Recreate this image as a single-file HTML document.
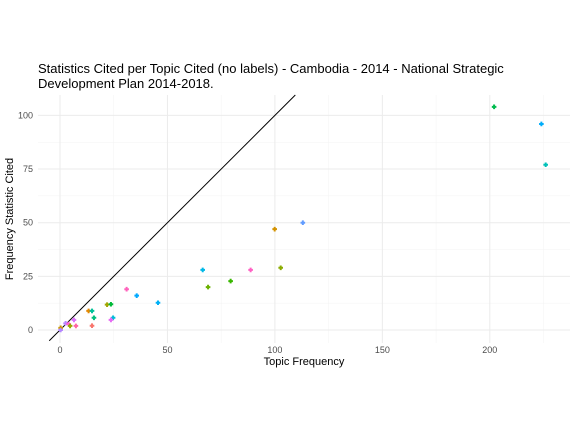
<!DOCTYPE html>
<html><head><meta charset="utf-8"><style>
body{margin:0;background:#fff;font-family:"Liberation Sans",sans-serif}
</style></head><body>
<svg id="c" width="576" height="432" style="display:block"></svg>
<script>
const xs=[31,35.7,45.6,21.9,23.7,13.3,14.9,15.8,24.7,23.7,6.5,2.6,4,4.7,7.4,14.9,0.3,0.3,113,99.9,66.4,88.7,102.7,79.4,68.9,202,224,226];
const ys=[19,16,12.7,11.8,12,8.9,8.9,5.7,5.7,4.7,4.7,3.1,2.8,1.9,1.9,2,1,0,50,47,28,28,29,22.8,20,104,96,77];
const cols=["#FF62BC","#00A9FF","#00B0F6","#A3A500","#00BA38","#E58700","#00C19A","#00BF7D","#00BCD8","#E76BF3","#DC71FA","#B983FF","#FD61D1","#99A800","#FF67A4","#F8766D","#C99800","#B385FF","#619CFF","#D39200","#00B8E7","#FF61C3","#8AAB00","#39B600","#6BB100","#00BB4E","#00ADFA","#00C0B8"];
const xTicks=[0,50,100,150,200];
const yTicks=[0,25,50,75,100];
const X=v=>60+v*2.149, Y=v=>330-v*2.146;
const s=document.getElementById('c'),NS='http://www.w3.org/2000/svg';
function mk(t,a,p){const e=document.createElementNS(NS,t);for(const k in a)e.setAttribute(k,a[k]);(p||s).appendChild(e);return e;}
const L=38,R=570,T=95,B=343;
// minor grid
[25,75,125,175,225].forEach(v=>{const g=mk('line',{x1:X(v),x2:X(v),y1:T,y2:B,stroke:'#f3f3f3','stroke-width':0.5});});
[12.5,37.5,62.5,87.5].forEach(v=>{const g=mk('line',{x1:L,x2:R,y1:Y(v),y2:Y(v),stroke:'#f3f3f3','stroke-width':0.5});});
xTicks.forEach(v=>{const g=mk('line',{x1:X(v),x2:X(v),y1:T,y2:B,stroke:'#ebebeb','stroke-width':1});
const t=mk('text',{x:X(v),y:353,'font-size':9,fill:'#4d4d4d','text-anchor':'middle'});t.textContent=v;});
yTicks.forEach(v=>{const g=mk('line',{x1:L,x2:R,y1:Y(v),y2:Y(v),stroke:'#ebebeb','stroke-width':1});
const t=mk('text',{x:33,y:Y(v)+3,'font-size':9,fill:'#4d4d4d','text-anchor':'end'});t.textContent=v;});
const ln=mk('line',{x1:X(-5),y1:Y(-5),x2:X(109.5),y2:Y(109.5),stroke:'#000','stroke-width':1});

xs.forEach((v,i)=>{const p=mk('path',{d:`M${X(v)-1},${Y(ys[i])-2.3}h2v1.3h1.3v2h-1.3v1.3h-2v-1.3h-1.3v-2h1.3z`,fill:cols[i%cols.length]});
});
const t1=mk('text',{x:38,y:73,'font-size':13,fill:'#000'});t1.textContent='Statistics Cited per Topic Cited (no labels) - Cambodia - 2014 - National Strategic';
const t2=mk('text',{x:38,y:88,'font-size':13,fill:'#000'});t2.textContent='Development Plan 2014-2018.';
const xl=mk('text',{x:304,y:365,'font-size':11,fill:'#000','text-anchor':'middle'});xl.textContent='Topic Frequency';
const yl=mk('text',{x:0,y:0,'font-size':11,fill:'#000','text-anchor':'middle',transform:'translate(13,219) rotate(-90)'});yl.textContent='Frequency Statistic Cited';
</script>
</body></html>
